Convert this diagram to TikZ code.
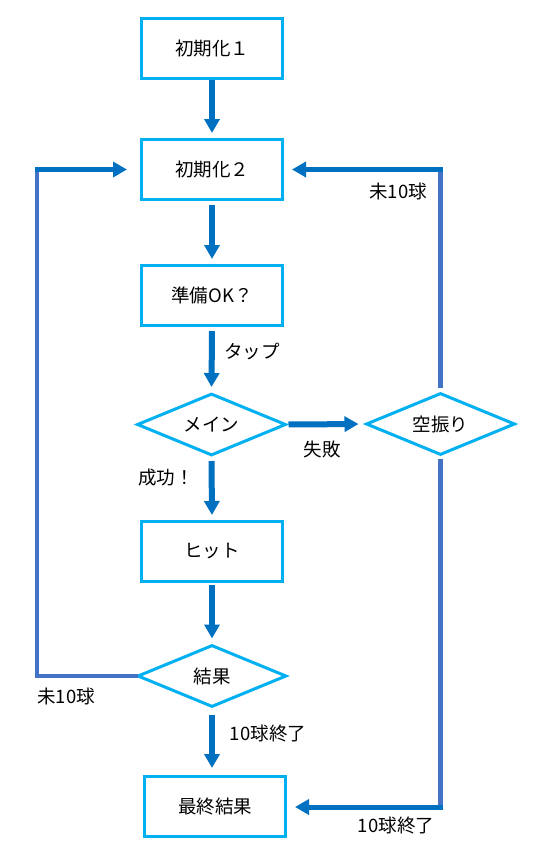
\documentclass[tikz,border=0pt]{standalone}
\usepackage{fontspec}
\setmainfont{Noto Sans CJK JP}
\usetikzlibrary{shapes.geometric,arrows.meta}
\definecolor{boxc}{HTML}{00B0F0}
\definecolor{arrc}{HTML}{0070C0}
\definecolor{loopc}{HTML}{4472C4}
\begin{document}
\begin{tikzpicture}[x=1pt,y=-1pt,
  every node/.style={font=\fontsize{18.5}{20}\selectfont},
  procbox/.style={draw=boxc,line width=3pt,minimum width=141pt,minimum height=60pt,inner sep=0pt},
  decbox/.style={draw=boxc,line width=3pt,diamond,aspect=2.3,minimum width=149pt,minimum height=62pt,inner sep=0pt},
  flow/.style={draw=arrc,line width=6pt,-{Triangle[width=15pt,length=14pt]},shorten <=4pt,shorten >=5pt},
  loopl/.style={draw=loopc,line width=4.5pt,line cap=rect},
  loopa/.style={draw=arrc,line width=5pt,line cap=rect,-{Triangle[width=15pt,length=14pt]}},
  lbl/.style={inner sep=0pt}
]
\useasboundingbox (0,0) rectangle (546,868);
% nodes
\node[procbox] (ini1) at (212,48.5) {初期化１};
\node[procbox] (ini2) at (212,169.5) {初期化２};
\node[procbox] (ready) at (212,295.5) {準備OK？};
\node[decbox] (main) at (211.5,424.5) {メイン};
\node[decbox] (miss) at (440.5,424) {空振り};
\node[procbox] (hit) at (212,551.5) {ヒット};
\node[decbox] (res) at (212,676) {結果};
\node[procbox] (fin) at (215,806.5) {最終結果};
% labels
\node[lbl] (t1) at (252,352) {タップ};
\node[lbl] (t2) at (322,449) {失敗};
\node[lbl] (t3) at (166,478) {成功！};
\node[lbl] (t4) at (398,191) {未10球};
\node[lbl] (t5) at (66,696) {未10球};
\node[lbl] (t6) at (268,733) {10球終了};
\node[lbl] (t7) at (396,825) {10球終了};
% main flow
\draw[flow,shorten <=0pt] (ini1.south) -- (ini2.north);
\draw[flow] (ini2.south) -- (ready.north);
\draw[flow] (ready.south) -- (main.north);
\draw[flow] (main.south) -- (hit.north);
\draw[flow,shorten <=2pt] (hit.south) -- (res.north);
\draw[flow,shorten <=6pt,shorten >=7pt] (res.south) -- (res.south |- fin.north);
\draw[flow,shorten <=1pt,shorten >=6pt] (main.east) -- (miss.west);
% loops
\coordinate (lbot) at (37,676);
\coordinate (ltop) at (37,169.5);
\coordinate (rtop) at (440.5,169.5);
\coordinate (rbot) at (440.5,807);
\draw[loopl] (res.west) -- (lbot) -- (ltop);
\draw[loopa,shorten >=13pt] (ltop) -- (ini2.west);
\draw[loopl,shorten <=6pt] (miss.north) -- (rtop);
\draw[loopa,shorten >=8pt] (rtop) -- (ini2.east);
\draw[loopl,shorten <=5pt] (miss.south) -- (rbot);
\draw[loopa,shorten >=8pt] (rbot) -- (rbot -| fin.east);
\end{tikzpicture}
\end{document}
